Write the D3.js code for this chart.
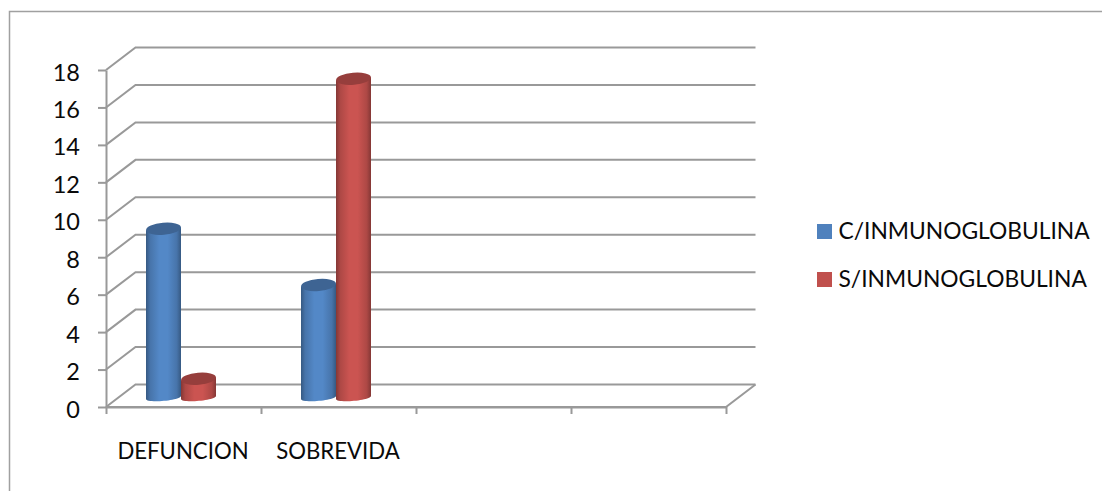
<!DOCTYPE html>
<html>
<head>
<meta charset="utf-8">
<script src="https://cdn.jsdelivr.net/npm/d3@7"></script>
<style>
html,body{margin:0;padding:0;background:#fff}
svg{display:block}
text{font-family:Lato,"Open Sans",sans-serif;fill:#0a0a0a}
</style>
</head>
<body>
<svg id="chart" width="1102" height="491"></svg>
<script>
const categories = ["DEFUNCION", "SOBREVIDA", "", ""];
const seriesNames = ["C/INMUNOGLOBULINA", "S/INMUNOGLOBULINA"];
const conValues = [9, 6];
const sinValues = [1, 17];
const yTicks = [0, 2, 4, 6, 8, 10, 12, 14, 16, 18];
const baseColors = ["#4f81bd", "#c0504d"];

const svg = d3.select("#chart");
const grey = "#999999";

// Outer frame: only the top and left edges fall inside the page
svg.append("path").attr("d", "M9.5,491V11.5H1102").attr("fill", "none").attr("stroke", "#a0a0a0").attr("stroke-width", 1.5);

// Scales for the front plane of the 3D box; the back wall is shifted by depth
const depth = { x: 29.5, y: -22.5 };
const x = d3.scaleBand().domain(d3.range(categories.length)).range([106, 726]);
const y = d3.scaleLinear().domain([0, 18]).range([407, 70]);
const yBar = d3.scaleLinear().domain([0, 18]).range([397.5, 60]);
const seriesX = d3.scaleBand().domain([0, 1]).range([40, 110]);

// Gridlines: side wall plus back wall
const grid = svg.append("g").attr("fill", "none").attr("stroke", grey).attr("stroke-width", 2);
grid.selectAll("path").data(yTicks).join("path")
  .attr("d", v => d3.line()([
    [x.range()[0], y(v)],
    [x.range()[0] + depth.x, y(v) + depth.y],
    [x.range()[1] + depth.x, y(v) + depth.y]
  ]));
// Floor front edge and right edge
grid.append("path").attr("d", d3.line()([
  [x.range()[0], y(0)], [x.range()[1], y(0)], [x.range()[1] + depth.x, y(0) + depth.y]
]));

// Value axis
const yAxis = svg.append("g").attr("transform", `translate(${x.range()[0]},0)`)
  .call(d3.axisLeft(y).tickValues(yTicks).tickSize(8).tickPadding(18).tickSizeOuter(0));
yAxis.selectAll("path,line").attr("stroke", grey).attr("stroke-width", 2);
yAxis.selectAll("text").attr("font-size", 23.5).attr("font-family", "Lato").attr("transform", "translate(0,2.5)");

// Category axis: ticks on band edges, labels in band centres
const xEdges = d3.scaleLinear().domain([0, categories.length]).range(x.range());
const xAxis = svg.append("g").attr("transform", `translate(0,${y(0)})`)
  .call(d3.axisBottom(xEdges).ticks(categories.length).tickFormat("").tickSize(7).tickSizeOuter(0));
xAxis.selectAll("path,line").attr("stroke", grey).attr("stroke-width", 2);

svg.append("g").selectAll("text").data(categories).join("text")
  .attr("x", (d, i) => x(i) + x.bandwidth() / 2 - 0.5)
  .attr("y", 459)
  .attr("text-anchor", "middle")
  .attr("font-size", 22.2)
  .text(d => d);

// Shading across a cylinder, dark at both flanks
const defs = svg.append("defs");
baseColors.forEach((c, i) => {
  const dark = d3.color(c).darker(1.05).formatHex();
  const mid = d3.color(c).darker(0.3).formatHex();
  const light = d3.color(c).brighter(0.15).formatHex();
  const g = defs.append("linearGradient").attr("id", "cyl" + i).attr("x1", 0).attr("x2", 1).attr("y1", 0).attr("y2", 0);
  [[0, dark], [0.12, mid], [0.38, light], [0.62, light], [0.88, mid], [1, dark]]
    .forEach(([o, col]) => g.append("stop").attr("offset", o).attr("stop-color", col));
});

// Cylinders, one per series and category
const rows = [conValues, sinValues].flatMap((vals, s) => vals.map((v, c) => ({ s, c, v })));
const rx = seriesX.bandwidth() / 2, ry = 6, tilt = -5;
const lift = rx * Math.tan(-tilt * Math.PI / 180);
const bulge = 4.5;

const bars = svg.append("g").selectAll("g").data(rows).join("g");
bars.append("path")
  .attr("fill", d => `url(#cyl${d.s})`)
  .attr("d", d => {
    const left = x(d.c) + seriesX(d.s), right = left + seriesX.bandwidth();
    const p = d3.path();
    p.moveTo(left, yBar(d.v) + lift);
    p.lineTo(left, yBar(0) + lift);
    p.bezierCurveTo(left, yBar(0) + lift + bulge, right, yBar(0) - lift + bulge, right, yBar(0) - lift);
    p.lineTo(right, yBar(d.v) - lift);
    p.closePath();
    return p.toString();
  });
bars.append("ellipse")
  .attr("cx", d => x(d.c) + seriesX(d.s) + rx)
  .attr("cy", d => yBar(d.v))
  .attr("rx", rx)
  .attr("ry", ry)
  .attr("transform", d => `rotate(${tilt} ${x(d.c) + seriesX(d.s) + rx} ${yBar(d.v)})`)
  .attr("fill", d => d3.color(baseColors[d.s]).darker(0.7).formatHex());

// Legend
const legend = svg.append("g").selectAll("g").data(seriesNames).join("g")
  .attr("transform", (d, i) => `translate(817,${224 + i * 48})`);
legend.append("rect").attr("width", 15).attr("height", 15).attr("fill", (d, i) => baseColors[i]);
legend.append("text").attr("x", 21.5).attr("y", 15).attr("font-size", 22.8).text(d => d);
</script>
</body>
</html>
